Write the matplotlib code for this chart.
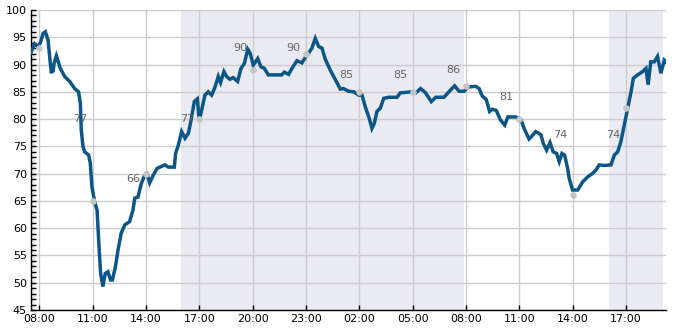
import matplotlib
matplotlib.use("Agg")
import matplotlib.pyplot as plt
from matplotlib.ticker import MultipleLocator

# hours after 08:00 on day 1
hours = [-0.5, -0.38, -0.27, -0.1, 0.05, 0.2, 0.33, 0.48, 0.6, 0.67, 0.72, 0.76, 0.82, 0.95,
         1.05, 1.17, 1.42, 1.7, 1.98, 2.2, 2.3, 2.35, 2.45, 2.54, 2.77, 2.86, 2.95, 3.1,
         3.24, 3.35, 3.44, 3.57, 3.7, 3.85, 4.0, 4.1, 4.27, 4.42, 4.6, 4.8, 5.07, 5.26,
         5.36, 5.54, 5.73, 5.92, 6.05, 6.2, 6.4, 6.63, 6.78, 7.06, 7.25, 7.59, 7.66, 7.81,
         8.0, 8.19, 8.38, 8.53, 8.71, 8.88, 8.99, 9.13, 9.31, 9.5, 9.69, 9.88, 10.06, 10.19,
         10.38, 10.53, 10.72, 10.9, 11.15, 11.34, 11.53, 11.72, 11.85, 12.03, 12.28, 12.46,
         12.65, 12.88, 13.25, 13.63, 13.78, 14.02, 14.21, 14.49, 14.77, 14.96, 15.15, 15.33,
         15.52, 15.71, 15.9, 16.08, 16.36, 16.65, 16.93, 17.1, 17.4, 17.68, 17.96, 18.15,
         18.33, 18.56, 18.71, 18.84, 18.99, 19.18, 19.37, 19.65, 20.12, 20.3, 20.92, 21.17,
         21.45, 21.73, 22.05, 22.3, 22.76, 23.04, 23.36, 23.61, 23.89, 24.13, 24.55, 24.74,
         24.92, 25.14, 25.33, 25.48, 25.7, 25.95, 26.18, 26.36, 26.79, 27.08, 27.27, 27.55,
         27.74, 27.92, 28.1, 28.22, 28.35, 28.54, 28.73, 28.91, 29.1, 29.25, 29.4, 29.55,
         29.72, 29.81, 30.0, 30.29, 30.57, 30.85, 31.13, 31.3, 31.5, 31.78, 32.16, 32.35,
         32.54, 32.72, 32.91, 33.1, 33.29, 33.42, 33.66, 33.94, 34.13, 34.25, 34.4, 34.6,
         34.78, 34.97, 35.16, 35.25]
values = [92.1, 93.0, 93.8, 93.3, 94.0, 95.7, 96.0, 94.5, 90.5, 88.4, 89.5, 88.6, 90.2, 91.6,
          90.6, 89.3, 87.8, 86.9, 85.6, 85.0, 82.9, 78.0, 74.9, 74.0, 73.4, 71.9, 67.6, 64.9,
          63.3, 56.6, 51.7, 49.3, 51.7, 52.0, 50.5, 50.5, 52.9, 56.0, 59.1, 60.6, 61.2, 63.3,
          65.5, 65.7, 68.2, 69.7, 70.0, 68.3, 69.7, 71.0, 71.2, 71.6, 71.2, 71.2, 73.7, 75.2,
          77.7, 76.5, 77.4, 79.8, 83.2, 83.7, 79.8, 81.7, 84.4, 85.0, 84.4, 85.9, 87.8, 86.7,
          88.7, 87.8, 87.3, 87.6, 86.9, 89.3, 90.2, 92.8, 92.1, 89.9, 91.1, 89.6,
          89.3, 88.1, 88.1, 88.1, 88.6, 88.2, 89.3, 90.7, 90.3, 91.3, 92.1, 93.0,
          94.8, 93.3, 93.0, 91.0, 89.0, 87.2, 85.5, 85.6, 85.1, 85.0, 84.4, 84.4,
          82.3, 80.1, 78.3, 79.2, 81.4, 82.0, 83.8, 84.0, 84.0, 84.8, 85.0, 84.8,
          85.6, 84.8, 83.2, 84.0, 84.0, 85.0, 86.1, 85.1, 85.1, 85.9, 86.0, 85.6,
          84.2, 83.6, 81.4, 81.8, 81.6, 79.8, 78.9, 80.4, 80.4, 80.0, 78.3, 76.35,
          77.0, 77.7, 77.4, 77.1, 75.55, 74.3, 75.7, 74.0, 73.7, 72.2, 73.7, 73.4,
          71.0, 69.1, 67.0, 67.0, 68.5, 69.4, 70.05, 70.6, 71.6, 71.5, 71.6, 73.4,
          74.0, 75.9, 78.9, 82.0, 85.0, 87.5, 88.1, 88.7, 89.3, 86.3, 90.5, 90.5,
          91.5, 88.4, 90.8, 90.5]

# 3-hourly markers and labels
marker_hours = [0, 3, 6, 9, 12, 15, 18, 21, 24, 27, 30, 33]
marker_values = [93, 65, 70, 80, 89, 92, 85, 85, 86, 80, 66, 82]
label_hours = [3, 6, 9, 12, 15, 18, 21, 24, 27, 30, 33]
label_values = [77, 66, 77, 90, 90, 85, 85, 86, 81, 74, 74]

# shaded (night) periods in hours after 08:00 day 1
shade_starts = [-0.6, 7.98, 32.05]
shade_ends = [-0.24, 23.9, 35.07]

tick_hours = [0, 3, 6, 9, 12, 15, 18, 21, 24, 27, 30, 33]
tick_labels = ["08:00", "11:00", "14:00", "17:00", "20:00", "23:00", "02:00",
               "05:00", "08:00", "11:00", "14:00", "17:00"]

fig = plt.figure(figsize=(6.85, 3.3), dpi=100)
ax = fig.add_axes([31 / 685, 1 - 310 / 330, (665.7 - 31) / 685, 300 / 330])

for s, e in zip(shade_starts, shade_ends):
    ax.axvspan(s, e, color="#eaeaf2", zorder=0, lw=0)

ax.set_axisbelow(True)
ax.grid(True, which="major", color="#cccccc", lw=1)

ax.plot(hours, values, color="#0b5687", lw=2.5, solid_joinstyle="miter", zorder=3)
ax.scatter(marker_hours, marker_values, s=22, color="#c4c4c4", zorder=4, lw=0)

for h, v in zip(label_hours, label_values):
    ax.annotate(str(v), (h, v + 3), xytext=(-4, 0), textcoords="offset points",
                ha="right", va="center", color="#666666", fontsize=8, zorder=5)

ax.set_xlim(-0.478, 35.24)
ax.set_ylim(45, 100)
ax.set_xticks(tick_hours)
ax.set_xticklabels(tick_labels)
ax.yaxis.set_major_locator(MultipleLocator(5))
ax.yaxis.set_minor_locator(MultipleLocator(1))
ax.tick_params(axis="both", which="both", direction="in", length=3.5, width=1,
               labelsize=8, colors="black", pad=3)
ax.tick_params(axis="x", which="both", bottom=True, top=False)
ax.tick_params(axis="y", which="both", left=True, right=False)

for side in ["top", "right"]:
    ax.spines[side].set_visible(False)
for side in ["left", "bottom"]:
    ax.spines[side].set_color("black")
    ax.spines[side].set_linewidth(1)

fig.savefig("out.png", dpi=100)
